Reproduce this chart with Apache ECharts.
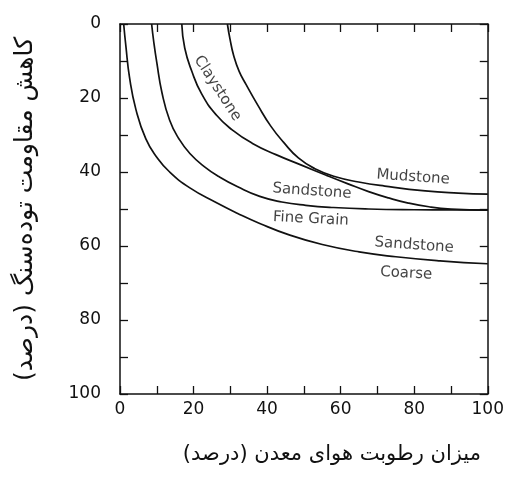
<!DOCTYPE html>
<html>
<head>
<meta charset="utf-8">
<script src="https://cdn.jsdelivr.net/npm/echarts@6/dist/echarts.min.js"></script>
<style>
  html, body { margin: 0; padding: 0; background: #fff; }
  #chart { width: 507px; height: 481px; }
</style>
</head>
<body>
<div id="chart"></div>
<script>
// Strength loss (%) versus mine air humidity (%), one curve per rock type: [humidity, loss]
const sandstoneCoarse = [[1,0],[1.6,6],[2.6,14.5],[4.3,23],[7,31],[10,36],[13.5,40],[19,44.3],[26,48.2],[32,51.2],[38,53.9],[46,57],[55,59.6],[65,61.6],[75,62.9],[87,64],[100,64.8]];
const sandstoneFine = [[8.6,0],[9.2,5],[10,10.4],[11.4,18.5],[13.5,26],[16,31],[19,35],[23,38.6],[27,41.3],[32,44],[38,46.6],[44,48.1],[50.5,49],[58,49.6],[67.6,50],[80,50.2],[90,50.25],[100,50.3]];
const claystone = [[16.8,0],[17.6,6.5],[19.5,12.7],[22.2,18.9],[26.2,24.6],[30.5,28.6],[35.9,32.2],[42.4,35.3],[49.5,38.2],[55.9,40.8],[62,43.2],[67.6,45.3],[73,47],[78.4,48.4],[84,49.4],[90,50],[100,50.3]];
const mudstone = [[29.2,0],[29.9,4],[30.9,8.5],[32.4,12.8],[34.3,16.4],[37.5,22],[41,27.6],[44.5,32],[48.5,36.2],[53,39.1],[58.6,41.3],[64.9,42.7],[72,43.8],[83,45.1],[92,45.7],[100,46]];

// Tick labels shown on the axes (ticks themselves every 10)
const xTickLabels = [0, 20, 40, 60, 80, 100];
const yTickLabels = [0, 20, 40, 60, 80, 100];

const xTitle = 'میزان رطوبت هوای معدن (درصد)';
const yTitle = 'کاهش مقاومت توده‌سنگ (درصد)';

// Curve captions placed in data space: [humidity, loss, text, rotation]
const curveCaptions = [
  [26.5, 17.4, 'Claystone', -57],
  [79.7, 41.4, 'Mudstone', -4],
  [52.2, 45.2, 'Sandstone', -4],
  [51.9, 52.7, 'Fine Grain', -3],
  [80.0, 59.8, 'Sandstone', -4],
  [77.8, 67.4, 'Coarse', -3]
];

const ink = '#111';
const rtl = s => '\u200F' + s + '\u200F';

const chart = echarts.init(document.getElementById('chart'), null, { renderer: 'canvas' });

const baseAxis = {
  type: 'value',
  min: 0,
  max: 100,
  interval: 10,
  axisLine: { show: true, onZero: false, lineStyle: { color: ink, width: 1.5 } },
  axisTick: { show: true, inside: true, length: 8, lineStyle: { color: ink, width: 1.3 } },
  splitLine: { show: false }
};

const curve = (name, data) => ({
  name,
  type: 'line',
  data,
  smooth: 0.5,
  showSymbol: false,
  silent: true,
  lineStyle: { color: ink, width: 1.7 },
  itemStyle: { color: ink },
  emphasis: { disabled: true },
  z: 3
});

chart.setOption({
  animation: false,
  backgroundColor: '#fff',
  grid: { left: 120, right: 17, top: 24, bottom: 87, containLabel: false },
  xAxis: [
    Object.assign({}, baseAxis, {
      position: 'bottom',
      axisLabel: {
        show: true,
        margin: 7,
        color: ink,
        fontSize: 17,
        fontFamily: 'DejaVu Sans',
        formatter: v => (xTickLabels.includes(v) ? String(v) : '')
      },
      name: rtl(xTitle),
      nameLocation: 'middle',
      nameGap: 50,
      nameTextStyle: { color: ink, fontSize: 21, fontFamily: 'DejaVu Sans', padding: [0, 0, 0, 56] }
    }),
    Object.assign({}, baseAxis, {
      position: 'top',
      axisLabel: { show: false }
    })
  ],
  yAxis: [
    Object.assign({}, baseAxis, {
      position: 'left',
      inverse: true,
      axisLabel: {
        show: true,
        margin: 19,
        color: ink,
        fontSize: 17,
        fontFamily: 'DejaVu Sans',
        formatter: v => (yTickLabels.includes(v) ? String(v) : '')
      },
      name: rtl(yTitle),
      nameLocation: 'middle',
      nameRotate: 90,
      nameGap: 82,
      nameTextStyle: { color: ink, fontSize: 25, fontFamily: 'DejaVu Sans' }
    }),
    Object.assign({}, baseAxis, {
      position: 'right',
      inverse: true,
      axisLabel: { show: false }
    })
  ],
  series: [
    curve('Sandstone Coarse', sandstoneCoarse),
    curve('Sandstone Fine Grain', sandstoneFine),
    curve('Claystone', claystone),
    curve('Mudstone', mudstone),
    {
      name: 'captions',
      type: 'scatter',
      silent: true,
      symbolSize: 1,
      itemStyle: { color: 'rgba(0,0,0,0)' },
      emphasis: { disabled: true },
      data: curveCaptions.map(c => ({
        value: [c[0], c[1]],
        name: c[2],
        label: { rotate: c[3] }
      })),
      label: {
        show: true,
        position: 'inside',
        formatter: p => p.name,
        color: ink,
        fontSize: 15,
        fontFamily: 'DejaVu Sans'
      },
      z: 4
    }
  ]
});
</script>
</body>
</html>
